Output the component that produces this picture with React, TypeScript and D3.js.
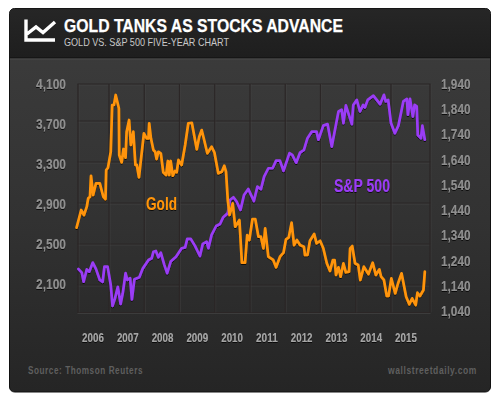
import React from "react";
import * as d3 from "d3";

const W = 500, H = 405;
const goldYears = [2006.08,2006.21,2006.29,2006.37,2006.41,2006.46,2006.49,2006.55,2006.63,2006.74,2006.84,2006.90,2006.92,2006.97,2007.05,2007.09,2007.14,2007.19,2007.28,2007.29,2007.36,2007.41,2007.47,2007.50,2007.57,2007.62,2007.69,2007.75,2007.79,2007.85,2007.99,2008.07,2008.12,2008.14,2008.19,2008.26,2008.31,2008.35,2008.40,2008.47,2008.54,2008.62,2008.67,2008.71,2008.75,2008.81,2008.87,2008.92,2008.97,2009.06,2009.16,2009.25,2009.35,2009.49,2009.56,2009.63,2009.70,2009.79,2009.91,2009.99,2010.10,2010.20,2010.27,2010.32,2010.37,2010.42,2010.51,2010.58,2010.70,2010.77,2010.86,2010.92,2010.98,2011.07,2011.15,2011.24,2011.31,2011.38,2011.43,2011.52,2011.66,2011.74,2011.85,2011.95,2012.02,2012.10,2012.18,2012.25,2012.33,2012.42,2012.53,2012.56,2012.63,2012.70,2012.82,2012.89,2012.99,2013.08,2013.18,2013.27,2013.35,2013.40,2013.44,2013.51,2013.57,2013.65,2013.72,2013.81,2013.84,2013.90,2013.98,2014.07,2014.13,2014.23,2014.36,2014.48,2014.57,2014.67,2014.72,2014.80,2014.88,2014.93,2015.01,2015.12,2015.20,2015.30,2015.43,2015.52,2015.60,2015.70,2015.75,2015.82,2015.92,2015.96];
const goldValues = [2659,2832,2783,2864,2946,2961,3166,2978,3092,3092,2961,2939,3222,3244,3400,3856,3856,3954,3824,3368,3297,3427,3342,3596,3710,3466,3596,3271,3271,3151,3580,3531,3531,3678,3531,3417,3400,3329,3400,3385,3200,3173,3310,3173,3310,3166,3212,3200,3320,3271,3466,3678,3683,3424,3547,3612,3515,3385,3449,3395,3190,3205,3264,3205,2929,2783,2897,2669,2734,2318,2318,2588,2539,2744,2744,2571,2571,2458,2653,2376,2344,2273,2376,2415,2546,2565,2708,2490,2539,2490,2474,2393,2393,2532,2598,2507,2532,2458,2312,2237,2344,2344,2198,2273,2181,2312,2224,2230,2458,2480,2312,2295,2149,2279,2207,2318,2198,2253,2181,2149,1993,1993,2165,2019,2117,2214,1986,1912,1970,1905,2025,1993,2051,2230];
const spxYears = [2006.13,2006.23,2006.28,2006.37,2006.44,2006.54,2006.63,2006.74,2006.82,2006.87,2006.96,2007.05,2007.10,2007.17,2007.25,2007.33,2007.39,2007.47,2007.52,2007.60,2007.65,2007.72,2007.79,2007.86,2007.96,2008.12,2008.21,2008.26,2008.33,2008.40,2008.47,2008.57,2008.65,2008.75,2008.90,2009.06,2009.16,2009.22,2009.32,2009.44,2009.58,2009.66,2009.77,2009.82,2009.91,2010.04,2010.15,2010.24,2010.37,2010.43,2010.53,2010.62,2010.73,2010.83,2010.95,2011.11,2011.21,2011.31,2011.40,2011.52,2011.64,2011.74,2011.85,2011.95,2012.12,2012.20,2012.31,2012.42,2012.53,2012.63,2012.75,2012.89,2012.94,2013.08,2013.20,2013.32,2013.51,2013.60,2013.65,2013.72,2013.89,2013.93,2014.03,2014.12,2014.21,2014.26,2014.34,2014.50,2014.69,2014.80,2014.85,2014.92,2015.00,2015.11,2015.21,2015.35,2015.45,2015.48,2015.54,2015.62,2015.67,2015.73,2015.76,2015.85,2015.89,2015.96];
const spxValues = [1207,1192,1156,1205,1196,1232,1207,1163,1156,1216,1216,1143,1060,1090,1136,1068,1110,1190,1163,1170,1086,1166,1170,1174,1209,1242,1249,1275,1278,1253,1271,1223,1190,1236,1255,1289,1292,1326,1326,1298,1258,1306,1315,1289,1342,1377,1385,1412,1428,1480,1491,1474,1441,1500,1524,1476,1533,1523,1573,1606,1606,1636,1636,1596,1666,1659,1628,1668,1679,1725,1751,1751,1719,1775,1781,1692,1831,1838,1785,1855,1781,1857,1877,1831,1857,1847,1877,1894,1860,1897,1871,1877,1785,1745,1775,1871,1881,1818,1881,1811,1857,1851,1738,1725,1775,1719];
const goldTicks = [4100,3700,3300,2900,2500,2100];
const spxTicks = [1940,1840,1740,1640,1540,1440,1340,1240,1140,1040];
const yearLabels = [2006,2007,2008,2009,2010,2011,2012,2013,2014,2015];
const yearLines = [2007,2008,2009,2010,2011,2012,2013,2014,2015];

const x = d3.scaleLinear().domain([2007,2015]).range([109,391]);
const xLabel = d3.scaleLinear().domain([2006,2015]).range([93,406]);
const yGold = d3.scaleLinear().domain([2100,3700]).range([285,121]);
const yGoldLabel = d3.scaleLinear().domain([2100,4100]).range([284,84]);
const ySpx = d3.scaleLinear().domain([1040,1940]).range([311,84]);

const line = (ys: number[], vs: number[], yS: (v:number)=>number) =>
  d3.line<number>().x((_, i) => x(ys[i])).y(d => yS(d))(vs) || "";

const FONT = "'Liberation Sans',Arial,sans-serif";
const squeeze = { lengthAdjust: "spacingAndGlyphs" } as const;

export default function App() {
  const top = 84, bottom = 312.5, left = 78, right = 430;
  const gridDark = "#2b2626", gridLight = "#4a4a4a";
  const hGrid = [top, ...goldTicks.filter(t => t < 4100).map(t => yGold(t)), bottom];
  const vGrid = [left, ...yearLines.map(t => x(t)), right];
  return (
    <svg width={W} height={H} style={{position:"absolute",left:0,top:0,display:"block",background:"#fff"}}>
      <defs>
        <linearGradient id="body" x1="0" x2="0" y1="0" y2="1">
          <stop offset="0" stopColor="#3d3d3d"/>
          <stop offset="0.55" stopColor="#323232"/>
          <stop offset="1" stopColor="#252525"/>
        </linearGradient>
        <linearGradient id="head" x1="0" x2="0" y1="0" y2="1">
          <stop offset="0" stopColor="#262626"/>
          <stop offset="1" stopColor="#1e1e1e"/>
        </linearGradient>
        <filter id="sh" x="-10%" y="-10%" width="120%" height="120%">
          <feDropShadow dx="0" dy="1" stdDeviation="0.6" floodColor="#000" floodOpacity="0.75"/>
        </filter>
        <clipPath id="frame"><rect x="9.5" y="8.5" width="481" height="383.5" rx="5"/></clipPath>
      </defs>
      <rect x="9.5" y="8.5" width="481" height="383.5" rx="5" fill="url(#body)" stroke="#111" strokeWidth="1"/>
      <g clipPath="url(#frame)">
        <rect x="9.5" y="8.5" width="481" height="49.5" fill="url(#head)"/>
        <line x1="9.5" x2="490.5" y1="58" y2="58" stroke="#0f0f0f"/>
        <line x1="9.5" x2="490.5" y1="59" y2="59" stroke="#4a4a4a"/>
      </g>
      <path d="M26 19.5V40H55M27 34L36 27L43 32.5L55 22" fill="none" stroke="#fff" strokeWidth="3.4" strokeLinejoin="miter"/>
      <text x="64" y="32" fill="#fff" stroke="#fff" strokeWidth="0.25" fontFamily={FONT} fontWeight="700" fontSize="19" textLength="279" {...squeeze}>GOLD TANKS AS STOCKS ADVANCE</text>
      <text x="64" y="46" fill="#c8c8c8" fontFamily={FONT} fontSize="11.5" textLength="165" {...squeeze}>GOLD VS. S&amp;P 500 FIVE-YEAR CHART</text>

      <g>
        {hGrid.map((g,i) => <g key={i}>
          <line x1={left-0.5} x2={right+0.5} y1={g+1} y2={g+1} stroke={gridLight} strokeOpacity="0.55"/>
          <line x1={left-0.5} x2={right+0.5} y1={g} y2={g} stroke={gridDark} strokeWidth="1.2"/>
        </g>)}
        {vGrid.map((g,i) => <g key={i}>
          <line x1={g+1} x2={g+1} y1={top} y2={bottom} stroke={gridLight} strokeOpacity="0.4"/>
          <line x1={g} x2={g} y1={top} y2={bottom} stroke={gridDark} strokeWidth="1.2"/>
        </g>)}
      </g>

      <path d={line(spxYears,spxValues,ySpx)} fill="none" stroke="#9a3cf5" strokeWidth="2.7" strokeLinejoin="round" strokeLinecap="round" filter="url(#sh)"/>
      <path d={line(goldYears,goldValues,yGold)} fill="none" stroke="#ff9408" strokeWidth="2.7" strokeLinejoin="round" strokeLinecap="round" filter="url(#sh)"/>

      <g fontFamily={FONT} fontWeight="700" filter="url(#sh)">
        {goldTicks.map(t => <text key={t} x="36" y={yGoldLabel(t)} dy="0.36em" fontSize="14" fill="#8f8f8f" textLength="30" {...squeeze}>{d3.format(",")(t)}</text>)}
        {spxTicks.map(t => <text key={t} x="441" y={ySpx(t)} dy="0.36em" fontSize="14" fill="#8f8f8f" textLength="29.5" {...squeeze}>{d3.format(",")(t)}</text>)}
        {yearLabels.map(t => <text key={t} x={xLabel(t)-10.9} y="337.5" dy="0.36em" fontSize="13" fill="#a6a6a6" textLength="21.8" {...squeeze}>{t}</text>)}
        <text x="146" y="204" dy="0.36em" fontSize="17.5" fill="#ff9408" textLength="31" {...squeeze}>Gold</text>
        <text x="334" y="186" dy="0.36em" fontSize="17.5" fill="#9a3cf5" textLength="56" {...squeeze}>S&amp;P 500</text>
      </g>
      <g fontFamily={FONT} fontWeight="700" fontSize="11.5" fill="#5f5f5f" letterSpacing="0.8">
        <text x="28" y="370" dy="0.36em" textLength="115" {...squeeze}>Source: Thomson Reuters</text>
        <text x="477" y="370" dy="0.36em" textAnchor="end" textLength="89" {...squeeze}>wallstreetdaily.com</text>
      </g>
    </svg>
  );
}
